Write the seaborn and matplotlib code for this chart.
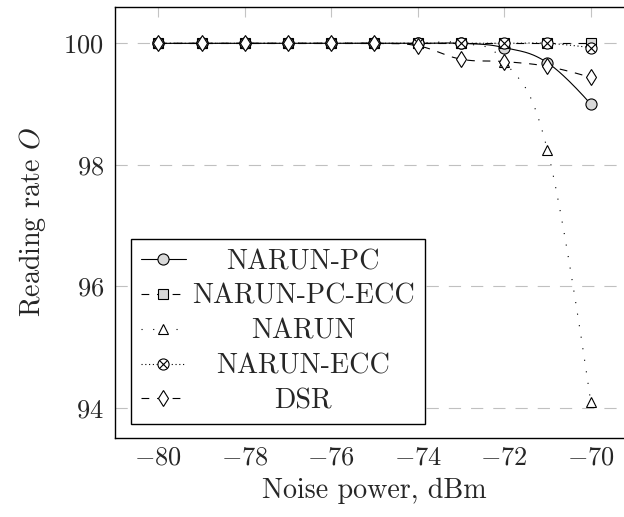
import numpy as np
import pandas as pd
import matplotlib
matplotlib.use("Agg")
import matplotlib.pyplot as plt
import seaborn as sns
from matplotlib.lines import Line2D

# ---------------- data ----------------
noise_dbm = [-80, -79, -78, -77, -76, -75, -74, -73, -72, -71, -70]
narun_pc = [100, 100, 100, 100, 100, 100, 100, 100, 99.93, 99.68, 99.00]
narun_pc_ecc = [100, 100, 100, 100, 100, 100, 100, 100, 100, 100, 100]
narun = [100, 100, 100, 100, 100, 100, 100, 100, 99.70, 98.24, 94.10]
narun_ecc = [100, 100, 100, 100, 100, 100, 100, 100, 100, 100, 99.93]
dsr = [100, 100, 100, 100, 100, 100, 99.96, 99.74, 99.70, 99.62, 99.44]
series_names = ["NARUN-PC", "NARUN-PC-ECC", "NARUN", "NARUN-ECC", "DSR"]
x_ticks = [-80, -78, -76, -74, -72, -70]
y_ticks = [94, 96, 98, 100]

# ---------------- style ----------------
sns.set_style("white")
plt.rcParams["font.family"] = ["cmr10", "DejaVu Serif"]
plt.rcParams["mathtext.fontset"] = "cm"
plt.rcParams["axes.formatter.use_mathtext"] = True
plt.rcParams["axes.unicode_minus"] = True
FS = 19
FS_TXT = 20.2


def smooth(x, y, c=0.2, n=40):
    """TikZ-like smooth curve (cubic Bezier through the data points)."""
    p = np.column_stack([np.asarray(x, float), np.asarray(y, float)])
    m = len(p)
    tang = np.zeros_like(p)
    for i in range(1, m - 1):
        tang[i] = c * (p[i + 1] - p[i - 1])
    out = [p[0]]
    t = np.linspace(0, 1, n)[1:, None]
    for i in range(m - 1):
        p0, p3 = p[i], p[i + 1]
        p1 = p0 + tang[i]
        p2 = p3 - tang[i + 1]
        seg = ((1 - t) ** 3) * p0 + 3 * ((1 - t) ** 2) * t * p1 + 3 * (1 - t) * t ** 2 * p2 + t ** 3 * p3
        out.extend(seg)
    out = np.array(out)
    return out[:, 0], out[:, 1]


fig = plt.figure(figsize=(6.24, 5.17), dpi=100)
ax = fig.add_axes([0.1843, 0.1534, 0.8317, 0.8321])

LW = 0.8
GRAYFILL = "#d9d9d9"
styles = {
    "NARUN-PC": dict(ls="-", marker="o", mfc=GRAYFILL, ms=8),
    "NARUN-PC-ECC": dict(ls=(0, (7, 7)), marker="s", mfc=GRAYFILL, ms=7.2),
    "NARUN": dict(ls=(0, (1, 9.5)), marker="^", mfc="white", ms=7.5),
    "NARUN-ECC": dict(ls=(0, (1, 2.4)), marker="o", mfc="white", ms=8),
    "DSR": dict(ls=(0, (7, 7)), marker="d", mfc="white", ms=8.5),
}
values = {
    "NARUN-PC": narun_pc,
    "NARUN-PC-ECC": narun_pc_ecc,
    "NARUN": narun,
    "NARUN-ECC": narun_ecc,
    "DSR": dsr,
}

z = 3
for name in series_names:
    st = styles[name]
    xs, ys = smooth(noise_dbm, values[name])
    df = pd.DataFrame({"x": xs, "y": ys})
    sns.lineplot(data=df, x="x", y="y", ax=ax, color="black", lw=LW,
                 linestyle=st["ls"], sort=False, estimator=None, zorder=z)
    dm = pd.DataFrame({"x": noise_dbm, "y": values[name]})
    ax.plot(dm["x"], dm["y"], linestyle="none", marker=st["marker"], ms=st["ms"],
            mfc=st["mfc"], mec="black", mew=LW, zorder=z + 0.5)
    if name == "NARUN-ECC":
        ax.plot(dm["x"], dm["y"], linestyle="none", marker="x", ms=st["ms"] * 0.7,
                mec="black", mew=LW, zorder=z + 0.6)
    z += 1

ax.set_xlim(-81, -69)
ax.set_ylim(93.51, 100.59)
ax.set_xticks(x_ticks)
ax.set_yticks(y_ticks)
ax.tick_params(axis="both", direction="in", length=7, width=0.8, color="#c4c4c4",
               top=True, right=True, labelsize=FS)
ax.tick_params(axis="x", pad=6)
ax.tick_params(axis="y", pad=8)
ax.set_axisbelow(True)
ax.yaxis.grid(True, color="#c0c0c0", linestyle=(0, (11, 9)), lw=0.8)
ax.xaxis.grid(False)
for sp in ax.spines.values():
    sp.set_color("black")
    sp.set_linewidth(1.0)

ax.set_xlabel("Noise power, dBm", fontsize=FS_TXT, labelpad=6)
ax.set_ylabel("Reading rate $O$", fontsize=FS_TXT, labelpad=11)

# legend
handles = []
for name in series_names:
    st = styles[name]
    h = Line2D([], [], color="black", lw=LW, linestyle=st["ls"], marker=st["marker"],
               ms=st["ms"], mfc=st["mfc"], mec="black", mew=LW)
    if name == "NARUN-ECC":
        hx = Line2D([], [], linestyle="none", marker="x", ms=st["ms"] * 0.7,
                    mec="black", mew=LW)
        h = (h, hx)
    handles.append(h)

leg = ax.legend(handles, series_names, loc="lower left", bbox_to_anchor=(0.031, 0.032),
                borderaxespad=0, frameon=True, fancybox=False, framealpha=1,
                edgecolor="black", fontsize=FS_TXT, handlelength=1.6, handletextpad=0.22,
                borderpad=0.35, labelspacing=0.3, numpoints=1)
leg.get_frame().set_linewidth(1.0)
leg.set_zorder(20)

# center legend texts in their column (pgfplots style)
fig.canvas.draw()
r = fig.canvas.get_renderer()
widths = [t.get_window_extent(r).width for t in leg.get_texts()]
wmax = max(widths)
for t, w in zip(leg.get_texts(), widths):
    t.set_x((wmax - w) / 2.0)

fig.savefig("out.png", dpi=100)
